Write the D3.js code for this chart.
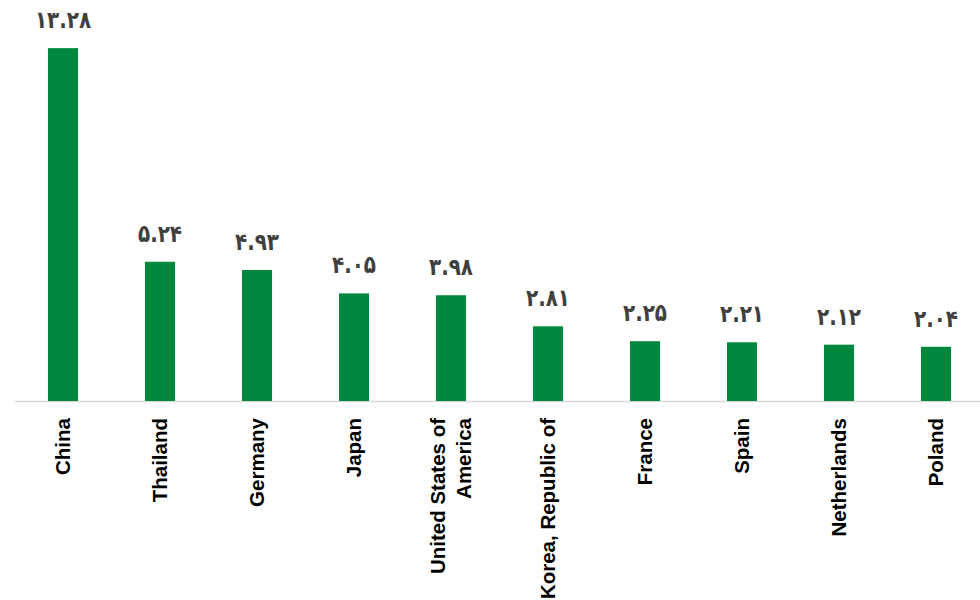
<!DOCTYPE html>
<html><head><meta charset="utf-8">
<script src="https://cdn.jsdelivr.net/npm/d3@7"></script>
<style>html,body{margin:0;padding:0;background:#fff;}</style>
</head><body>
<svg id="c" width="980" height="600"></svg>
<script>
const categories = ["China","Thailand","Germany","Japan","United States of America","Korea, Republic of","France","Spain","Netherlands","Poland"];
const categoryLines = [["China"],["Thailand"],["Germany"],["Japan"],["United States of","America"],["Korea, Republic of"],["France"],["Spain"],["Netherlands"],["Poland"]];
const values = [13.28,5.24,4.93,4.05,3.98,2.81,2.25,2.21,2.12,2.04];

const persian = s => s.replace(/[0-9]/g, d => "۰۱۲۳۴۵۶۷۸۹"[+d]);
const svg = d3.select("#c");
const baseY = 401;
const x = d3.scaleBand().domain(categories).range([14.5, 984.5]).paddingInner(0.69).paddingOuter(0.345);
const y = d3.scaleLinear().domain([0, 14]).range([baseY, 29]);

svg.append("line").attr("x1", 15).attr("x2", 980).attr("y1", baseY + 0.5).attr("y2", baseY + 0.5)
  .attr("stroke", "#d9d9d9").attr("stroke-width", 1.5);

svg.selectAll("rect.bar").data(values).enter().append("rect").attr("class","bar")
  .attr("x", (d,i) => x(categories[i])).attr("width", x.bandwidth())
  .attr("y", d => y(d)).attr("height", d => baseY - y(d)).attr("fill", "#00873d");

svg.selectAll("text.val").data(values).enter().append("text").attr("class","val")
  .attr("transform", (d,i) => `translate(${x(categories[i]) + x.bandwidth()/2},${y(d) - 20}) scale(0.83,1)`)
  .attr("text-anchor","middle").attr("font-family","DejaVu Sans").attr("font-weight","bold")
  .attr("font-size", 24).attr("fill","#404040")
  .text(d => persian(d.toFixed(2)));

const lh = 26;
categories.forEach((c,i) => {
  const cx = x(c) + x.bandwidth()/2;
  const lines = categoryLines[i];
  const t = svg.append("text").attr("transform", `translate(${cx},${418}) rotate(-90)`)
    .attr("text-anchor","end").attr("font-family","Liberation Sans, Arial, sans-serif")
    .attr("font-weight","bold").attr("font-size", 20.5).attr("fill","#000");
  lines.forEach((ln,j) => {
    const off = (j - (lines.length-1)/2) * lh;
    t.append("tspan").attr("x", 0).attr("y", off).attr("dy","0.35em").text(ln);
  });
});
</script>
</body></html>
